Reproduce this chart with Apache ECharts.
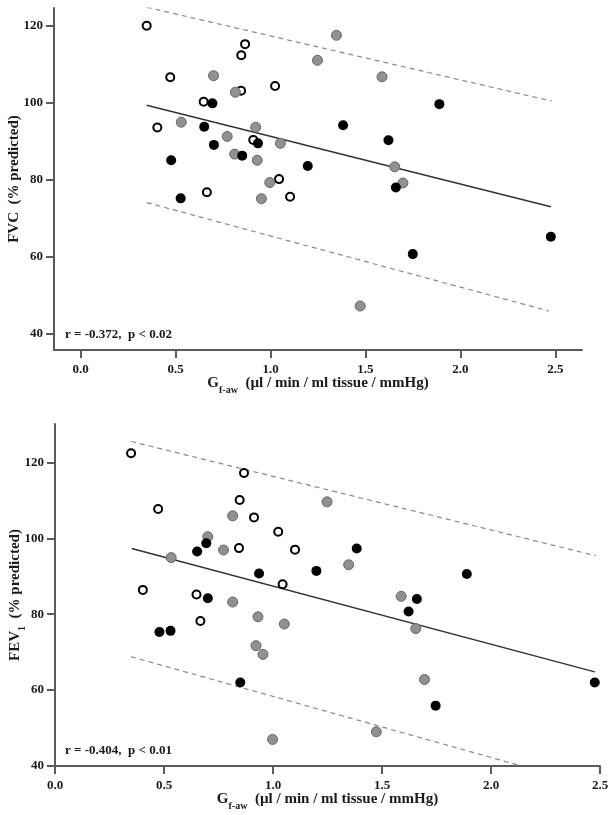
<!DOCTYPE html>
<html><head><meta charset="utf-8">
<script src="https://cdn.jsdelivr.net/npm/echarts@6/dist/echarts.min.js"></script>
<style>html,body{margin:0;padding:0;background:#fff}#c{width:614px;height:815px}</style>
</head><body><div id="c"></div>
<script>
// ---- tick labels ----
const xTicks = [0, 0.5, 1.0, 1.5, 2.0, 2.5];
const yTicks = [40, 60, 80, 100, 120];

// ---- Top panel: FVC (% predicted) ----
const fvcOpenX  = [0.348, 0.472, 0.404, 0.648, 0.866, 0.846, 0.845, 1.024, 0.909, 1.045, 0.665, 1.103];
const fvcOpenY  = [120.0, 106.6, 93.5, 100.2, 115.2, 112.3, 103.1, 104.3, 90.3, 80.1, 76.7, 75.5];
const fvcGrayX  = [0.700, 0.815, 0.530, 0.772, 0.922, 0.811, 0.930, 1.052, 0.996, 0.952, 1.347, 1.247, 1.587, 1.654, 1.697, 1.472];
const fvcGrayY  = [107.0, 102.7, 94.9, 91.2, 93.6, 86.6, 85.0, 89.4, 79.2, 75.0, 117.5, 111.0, 106.7, 83.3, 79.1, 47.1];
const fvcBlackX = [0.694, 0.651, 0.702, 0.477, 0.851, 0.934, 1.196, 0.527, 1.889, 1.382, 1.621, 1.660, 2.476, 1.749];
const fvcBlackY = [99.8, 93.7, 89.0, 85.0, 86.2, 89.4, 83.5, 75.1, 99.6, 94.1, 90.2, 77.9, 65.1, 60.6];
const fvcFitX   = [0.348, 2.476];
const fvcFitY   = [99.3, 72.9];
const fvcUpperX = [0.348, 2.480];
const fvcUpperY = [124.8, 100.4];
const fvcLowerX = [0.348, 2.466];
const fvcLowerY = [74.0, 45.8];
const fvcStat   = 'r = -0.372,  p < 0.02';

// ---- Bottom panel: FEV1 (% predicted) ----
const fevOpenX  = [0.349, 0.473, 0.867, 0.847, 0.913, 1.024, 0.844, 1.101, 1.044, 0.403, 0.649, 0.667];
const fevOpenY  = [122.4, 107.7, 117.2, 110.1, 105.5, 101.7, 97.4, 97.0, 87.9, 86.4, 85.2, 78.2];
const fevGrayX  = [0.815, 0.701, 0.773, 0.533, 0.815, 1.248, 1.347, 1.588, 1.655, 1.695, 1.474, 0.931, 1.052, 0.922, 0.954, 0.998];
const fevGrayY  = [105.9, 100.4, 96.9, 94.9, 83.2, 109.6, 93.0, 84.7, 76.2, 62.8, 49.0, 79.3, 77.4, 71.7, 69.4, 47.0];
const fevBlackX = [0.694, 0.652, 0.936, 0.701, 1.384, 1.199, 1.889, 1.660, 1.622, 1.746, 2.476, 0.479, 0.530, 0.850];
const fevBlackY = [98.7, 96.5, 90.7, 84.2, 97.3, 91.4, 90.6, 84.0, 80.7, 55.9, 62.0, 75.3, 75.6, 62.0];
const fevFitX   = [0.352, 2.476];
const fevFitY   = [97.3, 64.8];
const fevUpperX = [0.349, 2.480];
const fevUpperY = [125.5, 95.4];
const fevLowerX = [0.349, 2.140];
const fevLowerY = [68.8, 40.0];
const fevStat   = 'r = -0.404,  p < 0.01';

const FONT = '"Liberation Serif", "DejaVu Serif", serif';
const zip = (a, b) => a.map((v, i) => [v, b[i]]);

const axisLineStyle = { color: '#5a5a5a', width: 2 };
const nameRich = {
  m: { fontFamily: FONT, fontWeight: 'bold', fontSize: 15, color: '#1a1a1a', lineHeight: 24 },
  s: { fontFamily: FONT, fontWeight: 'bold', fontSize: 10, color: '#1a1a1a', lineHeight: 18, verticalAlign: 'bottom' }
};
function xAxis(gridIndex, min, max) {
  return {
    type: 'value', gridIndex, min, max,
    splitLine: { show: false },
    axisLine: { show: true, onZero: false, lineStyle: axisLineStyle },
    axisTick: { show: true, length: 8, lineStyle: axisLineStyle, customValues: xTicks },
    axisLabel: { customValues: xTicks, formatter: v => v.toFixed(1), color: '#1a1a1a',
      fontFamily: FONT, fontWeight: 'bold', fontSize: 13, margin: 13 },
    name: '{m|G}{s|f-aw}{m|  (µl / min / ml tissue / mmHg)}',
    nameLocation: 'middle', nameGap: 21, nameMoveOverlap: false,
    nameTextStyle: { rich: nameRich }
  };
}
function yAxis(gridIndex, min, max, name) {
  return {
    type: 'value', gridIndex, min, max,
    splitLine: { show: false },
    axisLine: { show: true, onZero: false, lineStyle: axisLineStyle },
    axisTick: { show: true, length: 8, lineStyle: axisLineStyle, customValues: yTicks },
    axisLabel: { customValues: yTicks, color: '#1a1a1a',
      fontFamily: FONT, fontWeight: 'bold', fontSize: 13, margin: 11 },
    name, nameLocation: 'middle', nameGap: 28, nameMoveOverlap: false,
    nameTextStyle: { rich: nameRich }
  };
}

function scatter(idx, x, y, kind) {
  const styles = {
    open:  { color: '#ffffff', borderColor: '#000000', borderWidth: 2, size: 8 },
    gray:  { color: '#919191', borderColor: '#666666', borderWidth: 1, size: 10 },
    black: { color: '#000000', borderColor: '#000000', borderWidth: 0, size: 10 }
  }[kind];
  return {
    type: 'scatter', xAxisIndex: idx, yAxisIndex: idx, data: zip(x, y),
    symbol: 'circle', symbolSize: styles.size, clip: false,
    itemStyle: { color: styles.color, borderColor: styles.borderColor, borderWidth: styles.borderWidth, opacity: 1 },
    emphasis: { disabled: true }, z: 5
  };
}
function line(idx, x, y, dashed) {
  return {
    type: 'line', xAxisIndex: idx, yAxisIndex: idx, data: zip(x, y),
    showSymbol: false, symbol: 'none', silent: true, z: 3,
    lineStyle: dashed ? { color: '#8a8a8a', width: 1.2, type: [5, 4] } : { color: '#333333', width: 1.5 }
  };
}

const chart = echarts.init(document.getElementById('c'), null, { renderer: 'canvas' });
chart.setOption({
  animation: false,
  backgroundColor: '#ffffff',
  grid: [
    { left: 54, top: 8, width: 528, height: 342, containLabel: false, outerBoundsMode: 'none' },
    { left: 55, top: 424, width: 545, height: 342, containLabel: false, outerBoundsMode: 'none' }
  ],
  xAxis: [xAxis(0, -0.14, 2.64), xAxis(1, 0, 2.5)],
  yAxis: [
    yAxis(0, 35.66, 124.6, '{m|FVC  (% predicted)}'),
    yAxis(1, 40, 130.1, '{m|FEV}{s|1}{m|  (% predicted)}')
  ],
  series: [
    line(0, fvcFitX, fvcFitY, false),
    line(0, fvcUpperX, fvcUpperY, true),
    line(0, fvcLowerX, fvcLowerY, true),
    scatter(0, fvcOpenX, fvcOpenY, 'open'),
    scatter(0, fvcGrayX, fvcGrayY, 'gray'),
    scatter(0, fvcBlackX, fvcBlackY, 'black'),
    line(1, fevFitX, fevFitY, false),
    line(1, fevUpperX, fevUpperY, true),
    line(1, fevLowerX, fevLowerY, true),
    scatter(1, fevOpenX, fevOpenY, 'open'),
    scatter(1, fevGrayX, fevGrayY, 'gray'),
    scatter(1, fevBlackX, fevBlackY, 'black')
  ],
  graphic: [
    { type: 'text', left: 65, top: 328, style: { text: fvcStat, font: 'bold 13px ' + FONT, fill: '#1a1a1a' } },
    { type: 'text', left: 65, top: 744, style: { text: fevStat, font: 'bold 13px ' + FONT, fill: '#1a1a1a' } }
  ]
});
</script></body></html>
